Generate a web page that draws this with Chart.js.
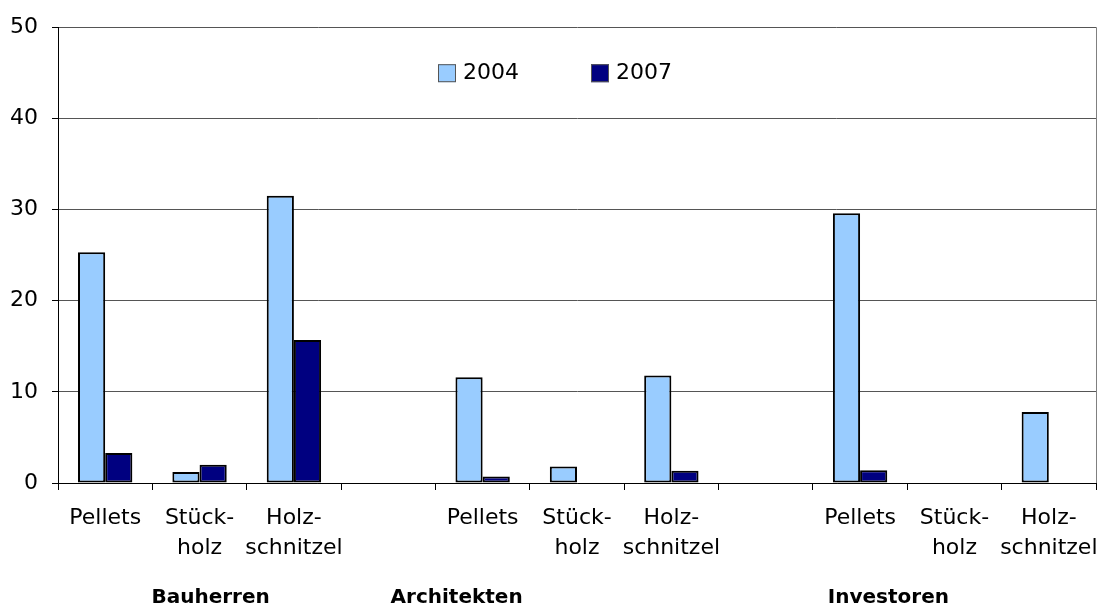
<!DOCTYPE html>
<html>
<head>
<meta charset="utf-8">
<script src="https://cdn.jsdelivr.net/npm/chart.js@4"></script>
<style>
  html, body { margin: 0; padding: 0; background: #fff; }
</style>
</head>
<body>
<canvas id="holz-chart" width="1101" height="608"></canvas>
<script>
const categories = [
    'Pellets', ['Stück-', 'holz'], ['Holz-', 'schnitzel'], '',
    'Pellets', ['Stück-', 'holz'], ['Holz-', 'schnitzel'], '',
    'Pellets', ['Stück-', 'holz'], ['Holz-', 'schnitzel']
];
const values2004 = [25.3, 1.2, 31.5, null, 11.6, 1.8, 11.8, null, 29.6, null, 7.8];
const values2007 = [3.3, 2.0, 15.7, null, 0.7, null, 1.35, null, 1.4, null, null];
const seriesNames = ['2004', '2007'];
const groupLabels = ['Bauherren', 'Architekten', 'Investoren'];

const FONT = "'DejaVu Sans', Verdana, sans-serif";

// legend drawn inside the plot, like the original
const innerLegend = {
    id: 'innerLegend',
    afterDraw(chart) {
        const { ctx, chartArea } = chart;
        let x = chartArea.left + 380;
        const y = chartArea.top + 46;
        ctx.save();
        ctx.font = '22px ' + FONT;
        ctx.textBaseline = 'middle';
        chart.data.datasets.forEach(ds => {
            ctx.fillStyle = ds.backgroundColor;
            ctx.fillRect(x, y - 9, 18, 18);
            ctx.strokeStyle = '#555';
            ctx.lineWidth = 1;
            ctx.strokeRect(x + 0.5, y - 8.5, 17, 17);
            ctx.fillStyle = '#000';
            ctx.fillText(ds.label, x + 25, y);
            x += 25 + ctx.measureText(ds.label).width + 72;
        });
        ctx.restore();
    }
};

// bold group names under the category labels
const groupNames = {
    id: 'groupNames',
    afterDraw(chart) {
        const { ctx, chartArea } = chart;
        const w = chartArea.right - chartArea.left;
        const pos = [0.147, 0.384, 0.80];
        ctx.save();
        ctx.font = 'bold 20px ' + FONT;
        ctx.fillStyle = '#000';
        ctx.textAlign = 'center';
        ctx.textBaseline = 'middle';
        groupLabels.forEach((g, i) => {
            ctx.fillText(g, chartArea.left + pos[i] * w, 598);
        });
        ctx.restore();
    }
};

const ctx = document.getElementById('holz-chart');

ctx.chartInstance = new Chart(ctx, {
    type: 'bar',
    data: {
        labels: categories,
        datasets: [{
            label: seriesNames[0],
            data: values2004,
            backgroundColor: '#99CCFF',
            borderColor: '#000',
            borderWidth: 2,
            borderSkipped: false
        }, {
            label: seriesNames[1],
            data: values2007,
            backgroundColor: '#000080',
            borderColor: '#000',
            borderWidth: 2,
            borderSkipped: false
        }]
    },
    options: {
        responsive: false,
        animation: false,
        datasets: {
            bar: {
                categoryPercentage: 0.576,
                barPercentage: 1
            }
        },
        layout: {
            padding: { top: 26, right: 5, left: 0, bottom: 0 }
        },
        scales: {
            x: {
                grid: {
                    offset: true,
                    drawOnChartArea: true,
                    color: (c) => c.type === 'tick' ? 'transparent' : '#808080',
                    tickColor: '#000',
                    tickLength: 7
                },
                border: { color: '#000', width: 1 },
                ticks: {
                    color: '#000',
                    font: { family: FONT, size: 22, lineHeight: 1.36 },
                    maxRotation: 0,
                    autoSkip: false,
                    padding: 13
                },
                afterFit(scale) {
                    scale.height = 125;
                    scale.paddingLeft = 0;
                    scale.paddingRight = 0;
                }
            },
            y: {
                min: 0,
                max: 50,
                ticks: {
                    stepSize: 10,
                    color: '#000',
                    font: { family: FONT, size: 22 },
                    padding: 14
                },
                grid: {
                    color: '#555',
                    tickColor: '#000',
                    tickLength: 6
                },
                border: { color: '#000', width: 1 },
                afterFit(scale) { scale.width = 58; }
            }
        },
        plugins: {
            legend: { display: false },
            tooltip: { enabled: false }
        }
    },
    plugins: [innerLegend, groupNames]
});
</script>
</body>
</html>
